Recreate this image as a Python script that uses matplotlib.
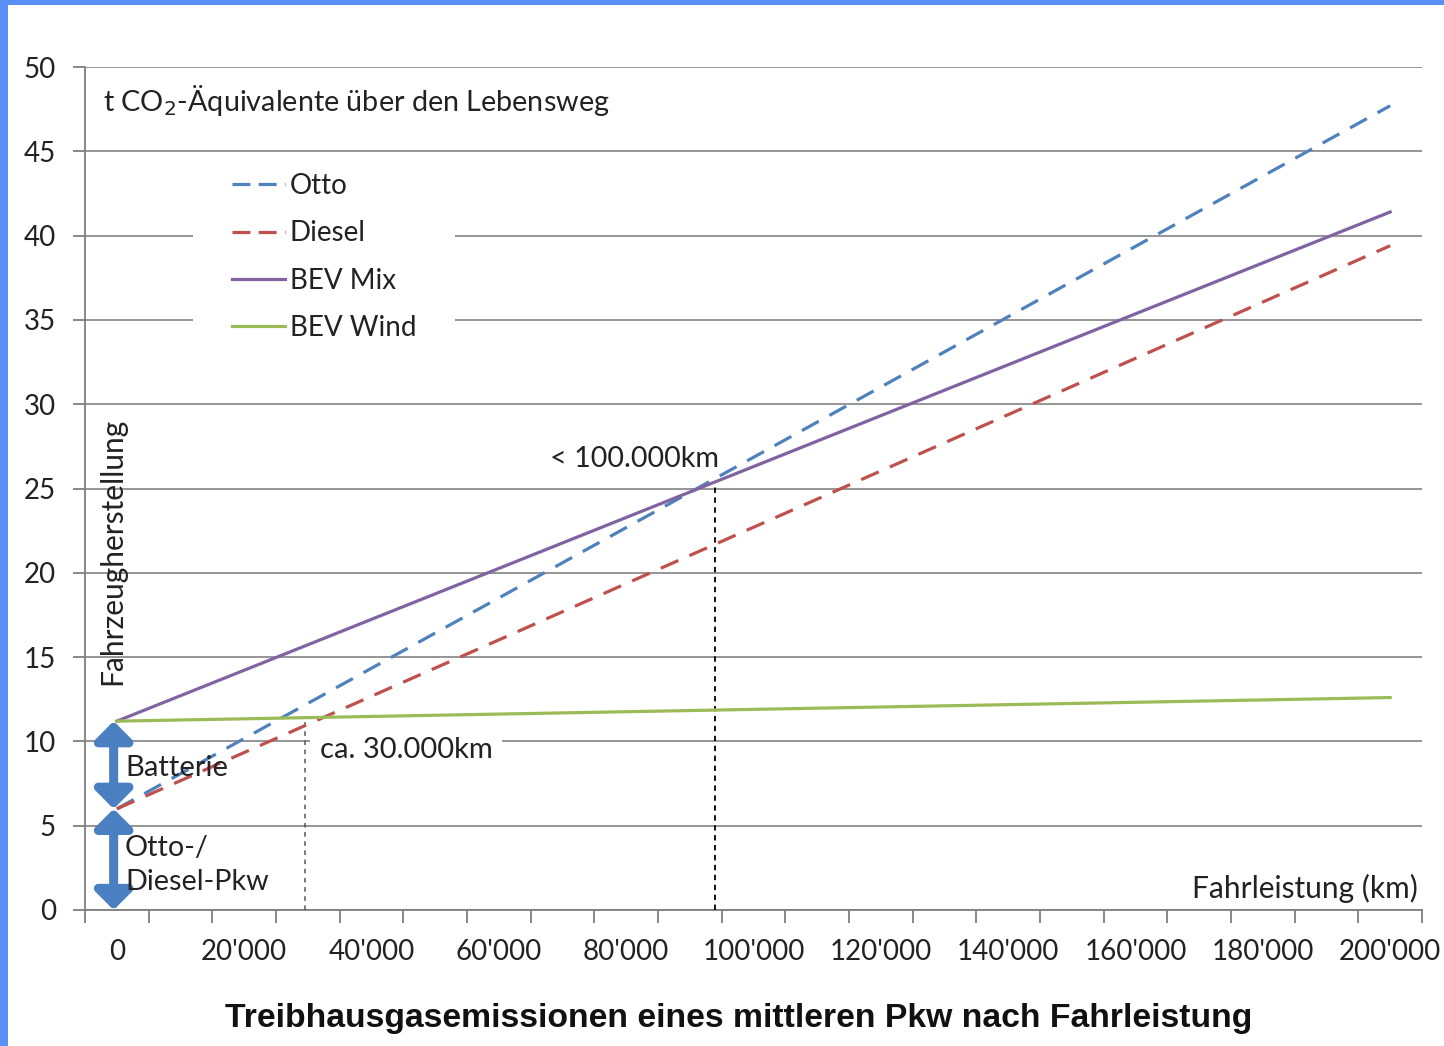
import matplotlib
matplotlib.use("Agg")
import matplotlib.pyplot as plt
from matplotlib.lines import Line2D
from matplotlib.patches import Rectangle

# data (linear lines, endpoints at 0 and 200'000 km)
km = [0, 200000]
otto = [6.0, 47.7]
diesel = [6.0, 39.4]
bev_mix = [11.2, 41.4]
bev_wind = [11.2, 12.6]

break_even_wind = 29600
break_even_mix = 94000
break_even_wind_y = 11.5
break_even_mix_y = 25.3

battery = [6.0, 11.2]
ice_car = [0.0, 6.0]

x_labels = ["0", "20'000", "40'000", "60'000", "80'000", "100'000",
            "120'000", "140'000", "160'000", "180'000", "200'000"]
x_label_pos = list(range(0, 200001, 20000))
y_ticks = list(range(0, 51, 5))

plt.rcParams['font.family'] = ['Lato', 'DejaVu Sans']

W, H = 1444, 1046
fig = plt.figure(figsize=(14.44, 10.46), dpi=100, facecolor='#5a8ff5')
fig.patches.append(Rectangle((8 / W, 0), 1, 1 - 5 / H, transform=fig.transFigure,
                             facecolor='white', edgecolor='none', zorder=-10))

ax = fig.add_axes([85 / W, 1 - 910 / H, (1422 - 85) / W, (910 - 67) / H])
ax.set_facecolor('none')

c_otto = '#4f81bd'
c_diesel = '#c0504d'
c_mix = '#8064a2'
c_wind = '#9bbb59'
txt = '#222222'

ax.plot(km, otto, color=c_otto, lw=2.3, dashes=(6, 3.8), zorder=4)
ax.plot(km, diesel, color=c_diesel, lw=2.3, dashes=(6, 3.8), zorder=4)
ax.plot(km, bev_mix, color=c_mix, lw=2.3, zorder=4)
ax.plot(km, bev_wind, color=c_wind, lw=2.3, zorder=4)

# break-even markers
ax.plot([break_even_wind, break_even_wind], [0, break_even_wind_y], color='#555555',
        lw=1.1, dashes=(3, 3), zorder=3)
ax.plot([break_even_mix, break_even_mix], [0, break_even_mix_y], color='black',
        lw=1.3, dashes=(3, 2.5), zorder=3)

# blue double arrows
arrow_x = -500
for seg in (battery, ice_car):
    ax.annotate('', xy=(arrow_x, seg[0]), xytext=(arrow_x, seg[1]),
                arrowprops=dict(arrowstyle='<|-|>,head_length=0.5,head_width=0.5',
                                color='#4a7fc1', lw=6.5, shrinkA=0, shrinkB=0,
                                mutation_scale=22), zorder=5)

ax.set_xlim(-5000, 205000)
ax.set_ylim(0, 50)
ax.set_yticks(y_ticks)
ax.set_yticklabels([str(v) for v in y_ticks], fontsize=20, color=txt)
ax.set_xticks(list(range(-5000, 205001, 10000)))
ax.set_xticklabels([])
ax.set_xticks(x_label_pos, minor=True)
ax.set_xticklabels(x_labels, minor=True, fontsize=20, color=txt)
ax.tick_params(axis='x', which='minor', length=0, pad=21)
ax.tick_params(axis='both', which='major', length=9, width=1.3, color='#7f7f7f')
ax.tick_params(axis='y', pad=12)

ax.grid(axis='y', color='#8c8c8c', lw=1.3, zorder=0)
ax.set_axisbelow(True)
for side in ('top', 'right'):
    ax.spines[side].set_visible(False)
for side in ('left', 'bottom'):
    ax.spines[side].set_color('#7f7f7f')
    ax.spines[side].set_linewidth(1.3)

# white area behind the legend (hides the gridlines there)
ax.add_patch(Rectangle((193 / W, 1 - 350 / H), (455 - 193) / W, (350 - 160) / H,
                       transform=fig.transFigure, facecolor='white', edgecolor='none',
                       zorder=1.5))

handles = [
    Line2D([], [], color=c_otto, lw=2.3, dashes=(5.6, 2.6)),
    Line2D([], [], color=c_diesel, lw=2.3, dashes=(5.6, 2.6)),
    Line2D([], [], color=c_mix, lw=2.3),
    Line2D([], [], color=c_wind, lw=2.3),
]
leg = ax.legend(handles, ['Otto', 'Diesel', 'BEV Mix', 'BEV Wind'],
                loc='upper left', bbox_to_anchor=(232 / W, 1 - 173 / H),
                bbox_transform=fig.transFigure, fontsize=20, frameon=False,
                handlelength=1.9, handletextpad=0.18, labelspacing=0.77,
                borderpad=0, borderaxespad=0)
leg.set_zorder(2)
for t in leg.get_texts():
    t.set_color(txt)

ax.text(103 / W, 1 - 100 / H, 't CO$_2$-Äquivalente über den Lebensweg',
        transform=fig.transFigure, fontsize=20.7, color=txt, va='center', ha='left')
ax.text(112 / W, 1 - 685 / H, 'Fahrzeugherstellung', transform=fig.transFigure,
        fontsize=21.5, color=txt, rotation=90, va='bottom', ha='center', zorder=6)
ax.text(125 / W, 1 - 768 / H, 'Batterie', transform=fig.transFigure,
        fontsize=21, color=txt, va='center', ha='left', zorder=6)
ax.text(125 / W, 1 - 865 / H, 'Otto-/\nDiesel-Pkw', transform=fig.transFigure,
        fontsize=20.7, color=txt, va='center', ha='left', linespacing=1.42, zorder=6)
ax.text(320 / W, 1 - 750 / H, 'ca. 30.000km', transform=fig.transFigure,
        fontsize=21, color=txt, va='center', ha='left', zorder=2,
        bbox=dict(facecolor='white', edgecolor='none', pad=7))
ax.text(550 / W, 1 - 459 / H, '< 100.000km', transform=fig.transFigure,
        fontsize=20.7, color=txt, va='center', ha='left', zorder=6)
ax.text(1418 / W, 1 - 888 / H, 'Fahrleistung (km)', transform=fig.transFigure,
        fontsize=21.5, color=txt, va='center', ha='right', zorder=6)

fig.text(739 / W, 1 - 1018 / H,
         'Treibhausgasemissionen eines mittleren Pkw nach Fahrleistung',
         fontsize=24.3, fontweight='bold', family=['Liberation Sans', 'DejaVu Sans'],
         color='#111111', ha='center', va='center')

fig.savefig('out.png', dpi=100, facecolor=fig.get_facecolor())
